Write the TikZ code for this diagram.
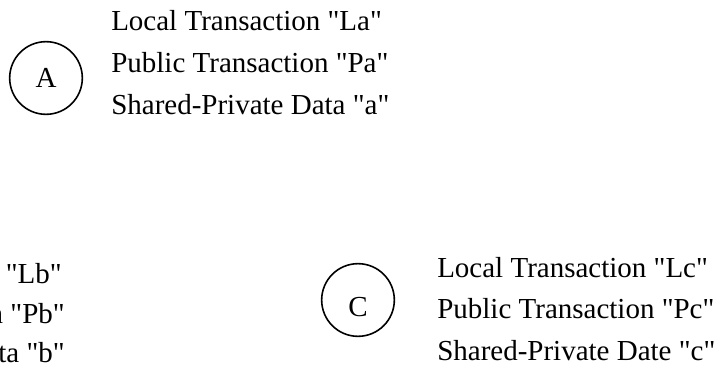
\documentclass[tikz,border=0pt]{standalone}
\usepackage{fontspec}
\setmainfont{Liberation Serif}[Ligatures=TeXOff]
\tikzset{
  site/.style={
    circle,
    draw=black,
    line width=1.2pt,
    minimum size=54.5pt,
    inner sep=0pt,
    font=\fontsize{21.75}{26}\selectfont
  },
  entry/.style={anchor=base west, inner sep=0pt, font=\fontsize{21.75}{26}\selectfont},
  entryleft/.style={entry, anchor=base east}
}

\begin{document}
\begin{tikzpicture}[x=0.75pt, y=-0.75pt]
  \useasboundingbox (0,0) rectangle (728,378);
  \clip (0,0) rectangle (728,378);

  % site A
  \node[site] (siteA) at (46,78) {A};
  \node[entry] (la) at (111,31) {Local Transaction "La"};
  \node[entry] (pa) at (111,73) {Public Transaction "Pa"};
  \node[entry] (sa) at (111,114) {Shared-Private Data "a"};

  % site B, cut off at the left edge
  \node[entryleft] (lb) at (62,283) {Local Transaction "Lb"};
  \node[entryleft] (pb) at (65,323) {Public Transaction "Pb"};
  \node[entryleft] (sb) at (65,362) {Shared-Private Data "b"};

  % site C
  \node[site, text height=24.5pt] (siteC) at (358,300) {C};
  \node[entry] (lc) at (437,277) {Local Transaction "Lc"};
  \node[entry] (pc) at (437,318) {Public Transaction "Pc"};
  \node[entry] (sc) at (437,360) {Shared-Private Date "c"};
\end{tikzpicture}
\end{document}
